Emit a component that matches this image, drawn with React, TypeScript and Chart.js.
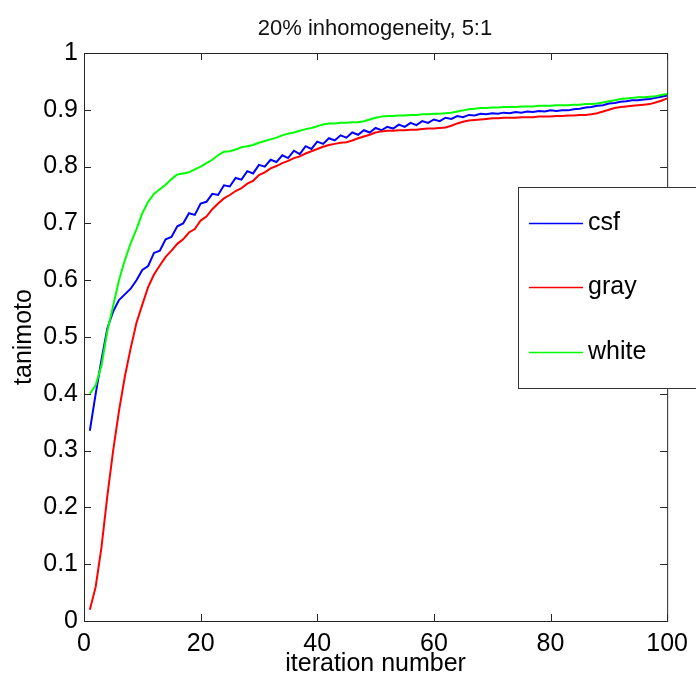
import React, { useEffect, useRef } from 'react';
import { Chart, registerables } from 'chart.js';

Chart.register(...registerables);

const TITLE = '20% inhomogeneity, 5:1';
const X_LABEL = 'iteration number';
const Y_LABEL = 'tanimoto';
const SERIES_NAMES = ['csf', 'gray', 'white'];
const SERIES_COLORS = ['#0000ff', '#ff0000', '#00ff00'];
const X_TICKS = [0, 20, 40, 60, 80, 100];
const Y_TICKS = [0, 0.1, 0.2, 0.3, 0.4, 0.5, 0.6, 0.7, 0.8, 0.9, 1];

const csf = [
  0.335, 0.400, 0.460, 0.515, 0.545, 0.565, 0.575, 0.585, 0.600, 0.618,
  0.625, 0.648, 0.652, 0.672, 0.676, 0.695, 0.700, 0.718, 0.715, 0.735,
  0.738, 0.752, 0.750, 0.767, 0.765, 0.780, 0.777, 0.792, 0.788, 0.803,
  0.800, 0.812, 0.808, 0.820, 0.815, 0.828, 0.822, 0.836, 0.831, 0.844,
  0.840, 0.850, 0.846, 0.855, 0.851, 0.860, 0.856, 0.864, 0.860, 0.868,
  0.864, 0.870, 0.867, 0.874, 0.870, 0.877, 0.873, 0.880, 0.877, 0.883,
  0.880, 0.886, 0.884, 0.889, 0.887, 0.891, 0.890, 0.893, 0.892, 0.894,
  0.893, 0.895, 0.894, 0.896, 0.895, 0.897, 0.896, 0.898, 0.897, 0.899,
  0.898, 0.899, 0.899, 0.901, 0.902, 0.904, 0.905, 0.907, 0.908, 0.911,
  0.912, 0.914, 0.915, 0.917, 0.917, 0.918, 0.919, 0.921, 0.923, 0.925,
];

const gray = [
  0.020, 0.060, 0.130, 0.220, 0.300, 0.370, 0.430, 0.480, 0.525, 0.557,
  0.588, 0.610, 0.626, 0.641, 0.652, 0.664, 0.672, 0.684, 0.690, 0.705,
  0.712, 0.725, 0.735, 0.744, 0.750, 0.757, 0.762, 0.770, 0.775, 0.785,
  0.790, 0.797, 0.801, 0.806, 0.810, 0.815, 0.818, 0.823, 0.827, 0.831,
  0.835, 0.838, 0.840, 0.842, 0.843, 0.846, 0.850, 0.853, 0.856, 0.860,
  0.862, 0.863, 0.863, 0.864, 0.864, 0.865, 0.865, 0.866, 0.867, 0.867,
  0.868, 0.869, 0.872, 0.876, 0.879, 0.881, 0.882, 0.883, 0.884, 0.885,
  0.885, 0.886, 0.886, 0.886, 0.887, 0.887, 0.887, 0.888, 0.888, 0.888,
  0.889, 0.889, 0.890, 0.890, 0.891, 0.891, 0.892, 0.894, 0.897, 0.900,
  0.903, 0.905, 0.906, 0.907, 0.908, 0.909, 0.910, 0.913, 0.916, 0.920,
];

const white = [
  0.400, 0.415, 0.450, 0.510, 0.555, 0.600, 0.635, 0.665, 0.690, 0.718,
  0.738, 0.752, 0.760, 0.768, 0.778, 0.786, 0.788, 0.790, 0.795, 0.800,
  0.806, 0.812, 0.820, 0.826, 0.827, 0.830, 0.834, 0.836, 0.838, 0.842,
  0.845, 0.848, 0.851, 0.855, 0.858, 0.860, 0.863, 0.866, 0.868, 0.871,
  0.874, 0.876, 0.876, 0.877, 0.877, 0.878, 0.878, 0.880, 0.883, 0.886,
  0.888, 0.889, 0.889, 0.890, 0.890, 0.891, 0.891, 0.892, 0.892, 0.893,
  0.893, 0.894, 0.895, 0.897, 0.899, 0.901, 0.902, 0.903, 0.903, 0.904,
  0.904, 0.905, 0.905, 0.905, 0.906, 0.906, 0.906, 0.907, 0.907, 0.907,
  0.908, 0.908, 0.908, 0.909, 0.909, 0.910, 0.910, 0.911, 0.913, 0.915,
  0.917, 0.919, 0.920, 0.921, 0.922, 0.922, 0.923, 0.924, 0.926, 0.928,
];

const SERIES = [csf, gray, white];
const FONT = '"Liberation Sans", Arial, sans-serif';
const AXIS_COLOR = '#262626';

const framePlugin = {
  id: 'matlabFrame',
  afterDraw(chart: any) {
    const { ctx, chartArea } = chart;
    const { left, right, top, bottom } = chartArea;
    const xs = chart.scales.x;
    const ys = chart.scales.y;
    ctx.save();
    ctx.strokeStyle = AXIS_COLOR;
    ctx.lineWidth = 1;
    ctx.strokeRect(left + 0.5, top + 0.5, right - left, bottom - top);
    const tl = 7;
    ctx.beginPath();
    xs.ticks.forEach((t: any) => {
      const px = Math.round(xs.getPixelForValue(t.value)) + 0.5;
      ctx.moveTo(px, bottom);
      ctx.lineTo(px, bottom - tl);
      ctx.moveTo(px, top);
      ctx.lineTo(px, top + tl);
    });
    ys.ticks.forEach((t: any) => {
      const py = Math.round(ys.getPixelForValue(t.value)) + 0.5;
      ctx.moveTo(left, py);
      ctx.lineTo(left + tl, py);
      ctx.moveTo(right, py);
      ctx.lineTo(right - tl, py);
    });
    ctx.stroke();

    // title
    ctx.fillStyle = '#111';
    ctx.font = `22px ${FONT}`;
    ctx.textAlign = 'center';
    ctx.textBaseline = 'alphabetic';
    ctx.fillText(TITLE, 375, 35);

    // legend
    const bx = 518.5, by = 187.5, bw = 200, bh = 201;
    ctx.fillStyle = '#ffffff';
    ctx.fillRect(bx, by, bw, bh);
    ctx.strokeStyle = '#333';
    ctx.strokeRect(bx, by, bw, bh);
    const rows = [223, 287, 352];
    chart.data.datasets.forEach((ds: any, i: number) => {
      const y = rows[i];
      ctx.strokeStyle = ds.borderColor;
      ctx.lineWidth = 1.6;
      ctx.beginPath();
      ctx.moveTo(529, y + 0.5);
      ctx.lineTo(583, y + 0.5);
      ctx.stroke();
      ctx.fillStyle = '#000';
      ctx.font = `25px ${FONT}`;
      ctx.textAlign = 'left';
      ctx.textBaseline = 'middle';
      ctx.fillText(ds.label, 588, y);
    });
    ctx.restore();
  },
};

export default function App() {
  const ref = useRef<HTMLCanvasElement | null>(null);
  useEffect(() => {
    if (!ref.current) return;
    const chart = new Chart(ref.current, {
      type: 'line',
      data: {
        datasets: SERIES.map((vals, i) => ({
          label: SERIES_NAMES[i],
          data: vals.map((v, k) => ({ x: k + 1, y: v })),
          borderColor: SERIES_COLORS[i],
          backgroundColor: SERIES_COLORS[i],
          borderWidth: 2,
          pointRadius: 0,
          tension: 0,
          fill: false,
          order: 2 - i,
        })),
      },
      options: {
        animation: false,
        responsive: false,
        layout: { padding: { top: 53, right: 26, bottom: 0, left: 0 } },
        plugins: {
          legend: { display: false },
          title: { display: false },
          tooltip: { enabled: false },
        },
        scales: {
          x: {
            type: 'linear',
            min: 0,
            max: 100,
            afterFit: (s: any) => { s.height = 58; },
            afterBuildTicks: (s: any) => { s.ticks = X_TICKS.map((v) => ({ value: v })); },
            grid: { display: false, drawTicks: false },
            border: { display: false },
            ticks: {
              color: '#000',
              font: { family: FONT, size: 25 },
              padding: 8,
              maxRotation: 0,
              autoSkip: false,
            },
            title: {
              display: true,
              text: X_LABEL,
              color: '#000',
              font: { family: FONT, size: 25 },
              padding: { top: 0, bottom: 0 },
            },
          },
          y: {
            type: 'linear',
            min: 0,
            max: 1,
            afterFit: (s: any) => { s.width = 84; },
            afterBuildTicks: (s: any) => { s.ticks = Y_TICKS.map((v) => ({ value: v })); },
            grid: { display: false, drawTicks: false },
            border: { display: false },
            ticks: {
              color: '#000',
              font: { family: FONT, size: 25 },
              padding: 6,
              autoSkip: false,
              callback: (v: any) => String(Math.round(Number(v) * 10) / 10),
            },
            title: {
              display: true,
              text: Y_LABEL,
              color: '#000',
              font: { family: FONT, size: 25 },
              padding: { top: 9, bottom: 0 },
            },
          },
        },
      },
      plugins: [framePlugin],
    });
    return () => chart.destroy();
  }, []);
  return (
    <div style={{ position: 'absolute', left: 0, top: 0, width: 696, height: 679, background: '#fff' }}>
      <canvas ref={ref} width={696} height={679} style={{ width: 696, height: 679, display: 'block' }} />
    </div>
  );
}
